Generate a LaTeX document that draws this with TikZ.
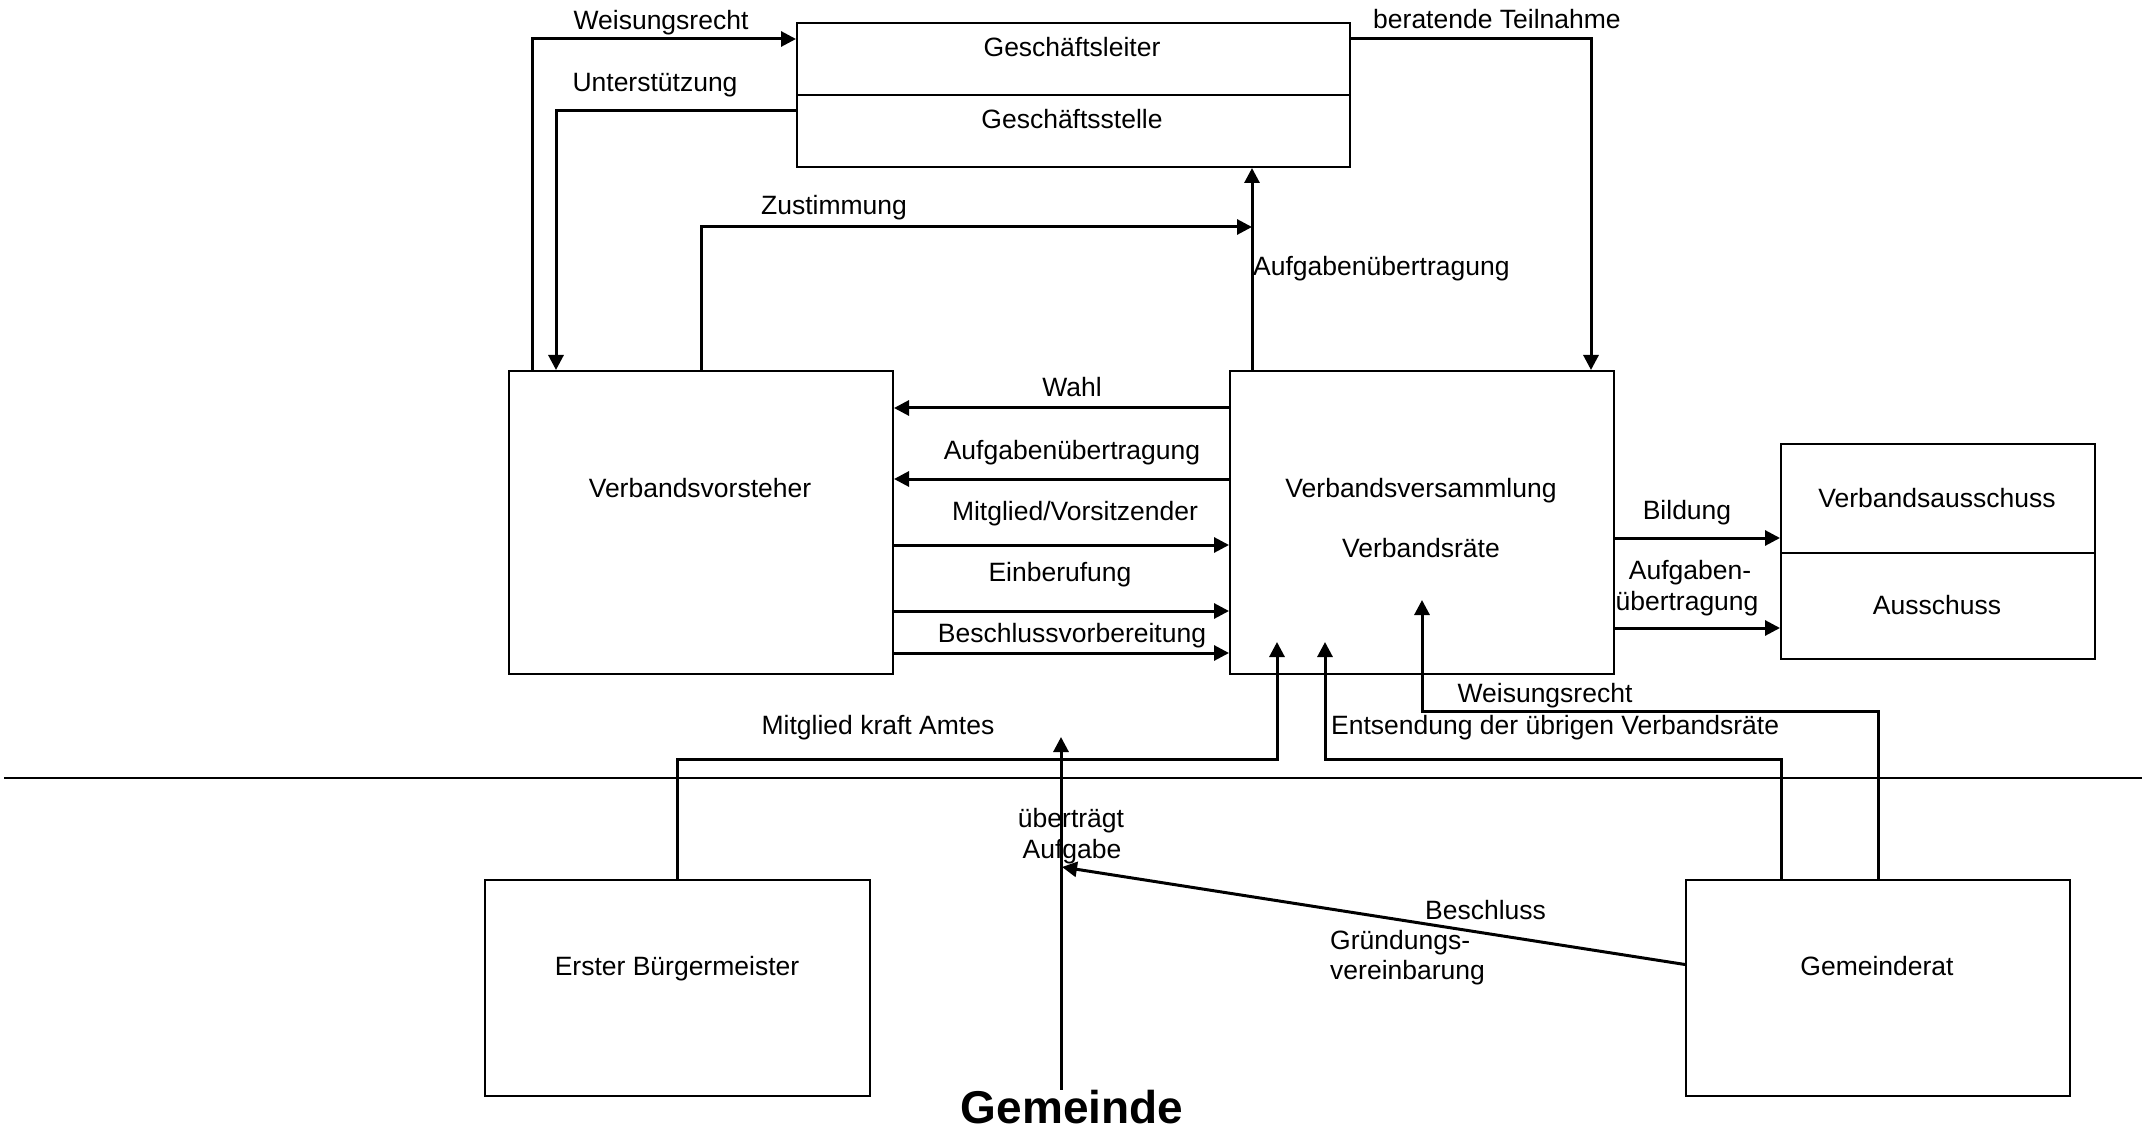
\documentclass[tikz,border=0pt]{standalone}
\usepackage{fontspec}
\setmainfont{Liberation Sans}
\usetikzlibrary{arrows.meta}
\begin{document}
\begin{tikzpicture}[x=1pt,y=-1pt,
  box/.style={draw,line width=2pt,inner sep=0pt,anchor=north west},
  lbl/.style={font=\fontsize{26.5}{31.5}\selectfont,inner sep=0pt,text height=19pt,text depth=5.5pt},
  conn/.style={line width=3pt,-{Triangle[length=15pt,width=15pt]}}]
\useasboundingbox[fill=white] (0,0) rectangle (2145,1131);

% boxes
\node[box,minimum width=553pt,minimum height=72pt] (gl1) at (796,22) {};
\node[box,minimum width=553pt,minimum height=72pt] (gl2) at (796,94) {};
\node[box,minimum width=384pt,minimum height=303pt] (vv) at (508,370) {};
\node[box,minimum width=384pt,minimum height=303pt] (vs) at (1229,370) {};
\node[box,minimum width=314pt,minimum height=109pt] (va) at (1780,443) {};
\node[box,minimum width=314pt,minimum height=106pt] (au) at (1780,552) {};
\node[box,minimum width=385pt,minimum height=216pt] (eb) at (484,879) {};
\node[box,minimum width=384pt,minimum height=216pt] (gr) at (1685,879) {};

% box texts
\node[lbl] (tgl1) at (1072,50) {Geschäftsleiter};
\node[lbl] (tgl2) at (1072,122) {Geschäftsstelle};
\node[lbl] (tvv) at (700,491) {Verbandsvorsteher};
\node[lbl] (tvs1) at (1421,491) {Verbandsversammlung};
\node[lbl] (tvs2) at (1421,551) {Verbandsräte};
\node[lbl] (tva) at (1937,501) {Verbandsausschuss};
\node[lbl] (tau) at (1937,608) {Ausschuss};
\node[lbl] (teb) at (677,969) {Erster Bürgermeister};
\node[lbl] (tgr) at (1877,969) {Gemeinderat};

% municipality / association boundary
\draw[line width=2.5pt] (4,778) -- (2142,778);

% connectors around the office
\draw[conn] ([xshift=24pt]vv.north west) |- ([yshift=-17pt]gl1.north west);
\draw[conn] ([yshift=-17pt]gl2.north west) -| ([xshift=48pt]vv.north west);
\coordinate (zt) at (1252,227);
\draw[conn] (vv.north) |- (zt);
\path ([xshift=23pt]vs.north west) coordinate (a0);
\draw[conn] (a0) -- (a0 |- gl2.south);
\draw[conn] ([yshift=-17pt]gl1.north east) -| ([xshift=-24pt]vs.north east);

% connectors between the two organs
\path ([yshift=-38pt]vs.north west) coordinate (w1);
\path ([yshift=-109pt]vs.north west) coordinate (w2);
\path ([yshift=-175pt]vv.north east) coordinate (w3);
\path ([yshift=-241pt]vv.north east) coordinate (w4);
\path ([yshift=-283pt]vv.north east) coordinate (w5);
\draw[conn] (w1) -- (w1 -| vv.east);
\draw[conn] (w2) -- (w2 -| vv.east);
\draw[conn] (w3) -- (w3 -| vs.west);
\draw[conn] (w4) -- (w4 -| vs.west);
\draw[conn] (w5) -- (w5 -| vs.west);

% committee
\path ([yshift=-168pt]vs.north east) coordinate (b1);
\path ([yshift=-258pt]vs.north east) coordinate (b2);
\draw[conn] (b1) -- (b1 -| va.west);
\draw[conn] (b2) -- (b2 -| au.west);

% connectors from the municipality
\path ([xshift=48pt,yshift=33pt]vs.south west) coordinate (t1);
\path ([xshift=96pt,yshift=33pt]vs.south west) coordinate (t2);
\path ([yshift=75pt]vs.south) coordinate (t3);
\draw[conn] (eb.north) -- ++(0,-120) -| (t1);
\draw[conn] ([xshift=96pt]gr.north west) -- ++(0,-120) -| (t2);
\draw[conn] (gr.north) -- ++(0,-168) -| (t3);

\node[font=\bfseries\fontsize{46}{50}\selectfont,inner sep=0pt] (gem) at (1072,1107) {Gemeinde};
\coordinate (ut) at (1061,737);
\draw[conn] (gem.north -| ut) -- (ut);
\coordinate (bt) at (1062,867);
\draw[conn] ([yshift=23.5pt]gr.west) -- (bt);

% connector labels
\node[lbl] (l1) at (661,23) {Weisungsrecht};
\node[lbl] (l2) at (655,85) {Unterstützung};
\node[lbl] (l3) at (834,208) {Zustimmung};
\node[lbl,anchor=west] (l4) at (1253,269) {Aufgabenübertragung};
\node[lbl,anchor=west] (l5) at (1373,22) {beratende Teilnahme};
\node[lbl] (l6) at (1072,390) {Wahl};
\node[lbl] (l7) at (1072,453) {Aufgabenübertragung};
\node[lbl] (l8) at (1075,514) {Mitglied/Vorsitzender};
\node[lbl] (l9) at (1060,575) {Einberufung};
\node[lbl] (l10) at (1072,636) {Beschlussvorbereitung};
\node[lbl] (l11) at (1687,513) {Bildung};
\node[lbl] (l12a) at (1690,573) {Aufgaben-};
\node[lbl] (l12b) at (1687,604) {übertragung};
\node[lbl] (l13) at (1545,696) {Weisungsrecht};
\node[lbl,anchor=west] (l14) at (1331,728) {Entsendung der übrigen Verbandsräte};
\node[lbl] (l15) at (878,728) {Mitglied kraft Amtes};
\node[lbl] (l16a) at (1071,821) {überträgt};
\node[lbl] (l16b) at (1072,852) {Aufgabe};
\node[lbl,anchor=west] (l17) at (1425,913) {Beschluss};
\node[lbl,anchor=west] (l18a) at (1330,943) {Gründungs-};
\node[lbl,anchor=west] (l18b) at (1330,973) {vereinbarung};
\end{tikzpicture}
\end{document}
